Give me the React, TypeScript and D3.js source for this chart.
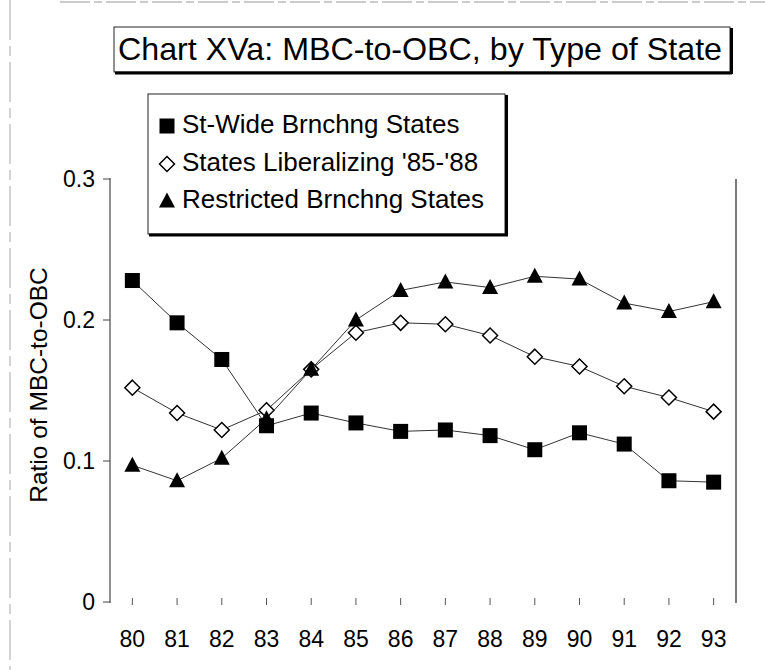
import React from "react";
import * as d3 from "d3";

const years = ["80", "81", "82", "83", "84", "85", "86", "87", "88", "89", "90", "91", "92", "93"];
const stWide = [0.228, 0.198, 0.172, 0.125, 0.134, 0.127, 0.121, 0.122, 0.118, 0.108, 0.12, 0.112, 0.086, 0.085];
const liberalizing = [0.152, 0.134, 0.122, 0.136, 0.165, 0.191, 0.198, 0.197, 0.189, 0.174, 0.167, 0.153, 0.145, 0.135];
const restricted = [0.097, 0.086, 0.102, 0.13, 0.165, 0.2, 0.221, 0.227, 0.223, 0.231, 0.229, 0.212, 0.206, 0.213];
const yTicks = [0, 0.1, 0.2, 0.3];
const yTickLabels = ["0", "0.1", "0.2", "0.3"];
const seriesNames = ["St-Wide Brnchng States", "States Liberalizing '85-'88", "Restricted Brnchng States"];
const title = "Chart XVa: MBC-to-OBC, by Type of State";
const yTitle = "Ratio of MBC-to-OBC";

const FONT = "'Liberation Sans', Arial, sans-serif";

function Marker({ kind, cx, cy }: { kind: string; cx: number; cy: number }) {
  if (kind === "square") {
    return <rect x={cx - 7.5} y={cy - 7.5} width={15} height={15} fill="#000" />;
  }
  if (kind === "diamond") {
    const r = 7.5;
    return (
      <path
        d={`M${cx},${cy - r}L${cx + r},${cy}L${cx},${cy + r}L${cx - r},${cy}Z`}
        fill="#fff"
        stroke="#000"
        strokeWidth={1.5}
      />
    );
  }
  return (
    <path
      d={`M${cx},${cy - 8.5}L${cx + 8},${cy + 6.5}L${cx - 8},${cy + 6.5}Z`}
      fill="#000"
    />
  );
}

export default function App() {
  const x = d3.scaleBand<string>().domain(years).range([110, 736]).padding(0);
  const cx = (c: string) => (x(c) as number) + x.bandwidth() / 2;
  const y = d3.scaleLinear().domain([0, 0.3]).range([602, 179]);
  const line = d3
    .line<number>()
    .x((_, i) => cx(years[i]))
    .y((d) => y(d));

  const series = [
    { name: seriesNames[0], values: stWide, kind: "square" },
    { name: seriesNames[1], values: liberalizing, kind: "diamond" },
    { name: seriesNames[2], values: restricted, kind: "triangle" },
  ];

  const legendRows = [133, 171, 208];

  return (
    <svg
      width={765}
      height={670}
      style={{ position: "absolute", left: 0, top: 0, background: "#fff" }}
      fontFamily={FONT}
    >
      <rect x={0} y={0} width={765} height={670} fill="#fff" />
      {/* scan edge artifacts */}
      <line x1={60} y1={2} x2={765} y2={2} stroke="#999" strokeWidth={1} strokeDasharray="30 4 8 4" />
      <line x1={10} y1={0} x2={10} y2={670} stroke="#aaa" strokeWidth={1} strokeDasharray="40 6 10 6" />

      {/* title box */}
      <rect x={114} y={27} width={616} height={45} fill="#fff" stroke="#222" strokeWidth={1} />
      <line x1={115} y1={73} x2={732} y2={73} stroke="#000" strokeWidth={3} />
      <line x1={731.5} y1={28} x2={731.5} y2={74} stroke="#000" strokeWidth={3} />
      <text x={118} y={60} fontSize={32} fill="#000" textLength={604} lengthAdjust="spacingAndGlyphs">
        {title}
      </text>

      {/* axes */}
      <line x1={110} y1={y(0.3) - 1} x2={110} y2={y(0) + 1} stroke="#222" strokeWidth={1} />
      <line x1={736} y1={y(0.3)} x2={736} y2={y(0) + 1} stroke="#222" strokeWidth={1.2} />
      {yTicks.map((t, i) => (
        <g key={t}>
          <line x1={103} x2={110} y1={y(t)} y2={y(t)} stroke="#444" strokeWidth={1} />
          <text x={95} y={y(t)} dy="0.36em" textAnchor="end" fontSize={23} fill="#000">
            {yTickLabels[i]}
          </text>
        </g>
      ))}
      {years.map((c) => (
        <g key={c}>
          <line x1={cx(c)} x2={cx(c)} y1={y(0) - 4} y2={y(0) + 3} stroke="#555" strokeWidth={1} />
          <text x={cx(c)} y={647} textAnchor="middle" fontSize={23} fill="#000">
            {c}
          </text>
        </g>
      ))}
      <text
        transform={`translate(47,385) rotate(-90)`}
        textAnchor="middle"
        fontSize={24.5}
        fill="#000"
      >
        {yTitle}
      </text>

      {/* series */}
      {series.map((s) => (
        <g key={s.name}>
          <path d={line(s.values) as string} fill="none" stroke="#333" strokeWidth={1} />
          {s.values.map((v, i) => (
            <Marker key={i} kind={s.kind} cx={cx(years[i])} cy={y(v)} />
          ))}
        </g>
      ))}

      {/* legend */}
      <rect x={148} y={94} width={357} height={140} fill="#fff" stroke="#222" strokeWidth={1} />
      <line x1={149} y1={235} x2={508} y2={235} stroke="#000" strokeWidth={3} />
      <line x1={506.5} y1={95} x2={506.5} y2={236} stroke="#000" strokeWidth={3} />
      {series.map((s, i) => (
        <g key={s.name}>
          <Marker kind={s.kind} cx={167} cy={legendRows[i] - 7} />
          <text x={182} y={legendRows[i]} fontSize={26} fill="#000">
            {s.name}
          </text>
        </g>
      ))}
    </svg>
  );
}
